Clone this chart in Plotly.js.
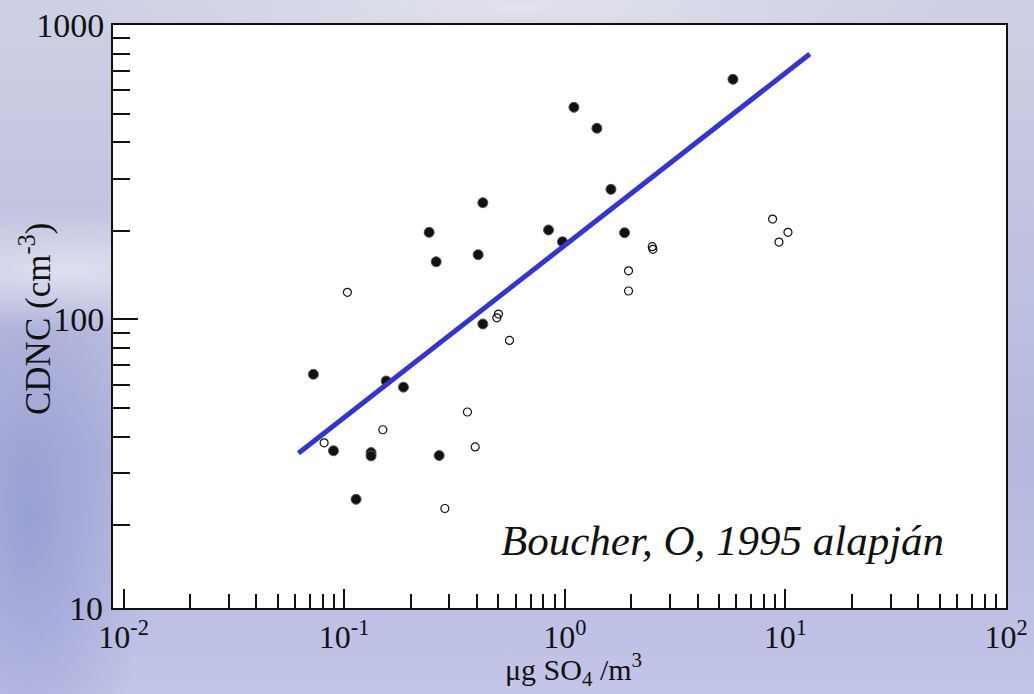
<!DOCTYPE html>
<html>
<head>
<meta charset="utf-8">
<script src="https://cdn.plot.ly/plotly-3.0.1.min.js"></script>
<style>
html,body{margin:0;padding:0;width:1034px;height:694px;overflow:hidden;}
body{
  background:
    radial-gradient(ellipse 260px 60px at 60px 270px, rgba(235,235,245,0.75), rgba(235,235,245,0) 100%),
    radial-gradient(ellipse 420px 40px at 520px 8px, rgba(228,228,238,0.9), rgba(228,228,238,0) 100%),
    radial-gradient(ellipse 120px 300px at 30px 520px, rgba(140,148,205,0.7), rgba(140,148,205,0) 100%),
    linear-gradient(180deg, #cfd0e4 0%, #c0c2e0 35%, #b4b8de 65%, #c2c4e8 100%);
}
#chart{width:1034px;height:694px;}
</style>
</head>
<body>
<div id="chart"></div>
<script>
// Sulfate mass concentration (µg SO4/m3) vs cloud droplet number concentration (cm^-3)
var filledX = [0.0725, 0.155, 0.1856, 0.0894, 0.1324, 0.1324, 0.2695, 0.1132, 0.2427, 0.2612,
               0.4048, 0.4251, 0.4251, 1.10, 1.398, 1.619, 0.8436, 0.976, 1.866, 5.786];
var filledY = [65.1, 61.8, 58.9, 35.8, 35.3, 34.4, 34.5, 24.5, 197.6, 157,
               165.9, 249.1, 96.5, 525.3, 445.8, 276.6, 201.3, 183.6, 197, 654];
var openX = [0.1034, 0.5004, 0.4921, 0.5614, 0.362, 0.1497, 0.0811, 0.3925, 0.286,
             2.491, 2.509, 1.945, 1.945, 8.75, 10.27, 9.35];
var openY = [123.6, 104.3, 101.3, 84.9, 48.5, 42.2, 38.1, 36.9, 22.8,
             176.6, 173, 146.3, 124.9, 219.3, 197.6, 183.2];
var fitX = [0.062, 12.9];
var fitY = [35.1, 797];

var xMajor = [0.01, 0.1, 1, 10, 100];
var xMajorText = ['10<sup>-2</sup>', '10<sup>-1</sup>', '10<sup>0</sup>', '10<sup>1</sup>', '10<sup>2</sup>'];
var yMajor = [100, 1000];
var yMajorText = ['100', '1000'];
var annotationText = 'Boucher, O, 1995 alapján';
var xTitle = 'μg SO<sub>4</sub> /m<sup>3</sup>';
var yTitle = 'CDNC (cm<sup>-3</sup>)';

function minorTicks(lo, hi) {
  var out = [];
  for (var k = lo; k <= hi; k++) {
    for (var d = 2; d <= 9; d++) out.push(d * Math.pow(10, k));
  }
  return out;
}

var font = '"Liberation Serif", "Times New Roman", serif';

var traces = [
  {x: openX, y: openY, mode: 'markers', type: 'scatter',
   marker: {symbol: 'circle-open', size: 8, color: '#111', line: {width: 1.2, color: '#111'}},
   hoverinfo: 'x+y'},
  {x: filledX, y: filledY, mode: 'markers', type: 'scatter',
   marker: {symbol: 'circle', size: 10, color: '#111', line: {width: 1, color: '#555'}},
   hoverinfo: 'x+y'},
  {x: fitX, y: fitY, mode: 'lines', type: 'scatter',
   line: {color: '#3535cc', width: 5}, hoverinfo: 'skip'}
];

var layout = {
  width: 1034, height: 694,
  paper_bgcolor: 'rgba(0,0,0,0)',
  plot_bgcolor: '#ffffff',
  showlegend: false,
  margin: {l: 113, r: 28, t: 25, b: 86, pad: 0},
  font: {family: font, color: '#111', size: 30},
  xaxis: {
    type: 'log', range: [-2.048, 2],
    showline: true, mirror: true, linecolor: '#111', linewidth: 2,
    showgrid: false, zeroline: false,
    ticks: 'inside', ticklen: 19, tickwidth: 2, tickcolor: '#111',
    tickmode: 'array', tickvals: xMajor, ticktext: xMajorText,
    tickfont: {family: font, size: 32, color: '#111'},
    minor: {tickmode: 'array', tickvals: minorTicks(-2, 1), ticks: 'inside', ticklen: 14, tickwidth: 2, tickcolor: '#111', showgrid: false}
  },
  yaxis: {
    type: 'log', range: [1.02, 3],
    showline: true, mirror: true, linecolor: '#111', linewidth: 2,
    showgrid: false, zeroline: false,
    ticks: 'inside', ticklen: 25, tickwidth: 2, tickcolor: '#111',
    tickmode: 'array', tickvals: yMajor, ticktext: yMajorText,
    tickfont: {family: font, size: 34, color: '#111'},
    minor: {tickmode: 'array', tickvals: minorTicks(1, 2), ticks: 'inside', ticklen: 17, tickwidth: 2, tickcolor: '#111', showgrid: false}
  },
  annotations: [
    {xref: 'paper', yref: 'paper', x: 0.9328, y: 0.115, xanchor: 'right', yanchor: 'middle',
     text: '<i>' + annotationText + '</i>', showarrow: false,
     font: {family: font, size: 43, color: '#111'}},
    {xref: 'paper', yref: 'paper', x: 0, y: 0, xanchor: 'right', yanchor: 'middle', xshift: -8,
     text: '10', showarrow: false, font: {family: font, size: 34, color: '#111'}},
    {xref: 'paper', yref: 'paper', x: 0, y: 0.4957, xanchor: 'center', yanchor: 'middle', xshift: -78,
     textangle: -90, text: yTitle, showarrow: false, font: {family: font, size: 35, color: '#111'}},
    {xref: 'paper', yref: 'paper', x: 0.516, y: 0, yshift: -85, xanchor: 'center', yanchor: 'bottom',
     text: xTitle, showarrow: false, font: {family: font, size: 30, color: '#111'}}
  ]
};

Plotly.newPlot('chart', traces, layout, {displayModeBar: false, staticPlot: true});
</script>
</body>
</html>
